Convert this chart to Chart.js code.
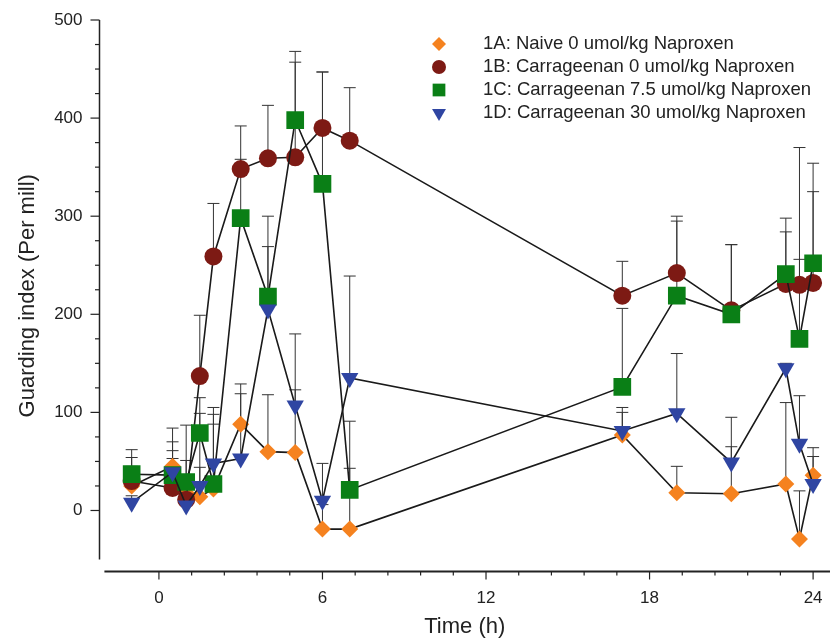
<!DOCTYPE html>
<html>
<head>
<meta charset="utf-8">
<script src="https://cdn.jsdelivr.net/npm/chart.js@4.4.0/dist/chart.umd.min.js"></script>
<style>
  html, body { margin: 0; padding: 0; background: #fff; }
  #wrap { width: 830px; height: 640px; }
</style>
</head>
<body>
<div id="wrap"><canvas id="guardChart" width="830" height="640"></canvas></div>
<script>
// sampling times (h)
const times = [-1, 0.5, 1, 1.5, 2, 3, 4, 5, 6, 7, 17, 19, 21, 23, 23.5, 24];

// group means (per mill) and top of the error bar
const naive = [25, 45, 18, 14, 22, 88, 60, 59, -19, -19, 77, 18, 17, 27, -29, 36];
const naiveUpper = [45, 70, 30, 44, 88, 129, 118, 123, 6, 43, 100, 45, 65, 110, 20, 64];

const carra0 = [30, 23, 11, 137, 259, 348, 359, 360, 390, 377, 219, 242, 204, 231, 230, 232];
const carra0Upper = [54, 53, 51, 199, 313, 392, 413, 457, 447, 431, 254, 300, 271, 298, 256, 325];

const carra75 = [37, 36, 29, 79, 27, 298, 218, 398, 333, 21, 126, 219, 200, 241, 175, 252];
const carra75Upper = [62, 61, 87, 115, 98, 358, 300, 468, 447, 91, 206, 295, 271, 284, 370, 354];

const carra30 = [8, 39, 5, 25, 48, 53, 205, 107, 10, 135, 81, 99, 49, 145, 68, 27];
const carra30Upper = [15, 84, 12, 99, 105, 119, 269, 180, 48, 239, 105, 160, 95, 150, 117, 55];

const seriesNames = [
  '1A: Naive 0 umol/kg Naproxen',
  '1B: Carrageenan 0 umol/kg Naproxen',
  '1C: Carrageenan 7.5 umol/kg Naproxen',
  '1D: Carrageenan 30 umol/kg Naproxen'
];

const xTicks = [0, 6, 12, 18, 24];
const yTicks = [0, 100, 200, 300, 400, 500];

const FONT = "'Liberation Sans', Arial, Helvetica, sans-serif";
const INK = '#222';

const colors = ['#f5821f', '#7d1a14', '#0a7f16', '#2f45a2'];
const styles = [
  { pointStyle: 'rectRot', radius: 8.5, rotation: 0, legendRadius: 7 },
  { pointStyle: 'circle', radius: 9, rotation: 0, legendRadius: 7 },
  { pointStyle: 'rect', radius: 12.5, rotation: 0, legendRadius: 9 },
  { pointStyle: 'triangle', radius: 10, rotation: 180, legendRadius: 8 }
];

const means = [naive, carra0, carra75, carra30];
const uppers = [naiveUpper, carra0Upper, carra75Upper, carra30Upper];

function toPoints(vals) {
  return times.map((t, i) => ({ x: t, y: vals[i] }));
}

const datasets = means.map((vals, i) => ({
  label: seriesNames[i],
  data: toPoints(vals),
  borderColor: '#1a1a1a',
  borderWidth: 1.6,
  pointStyle: styles[i].pointStyle,
  pointRadius: styles[i].radius,
  pointRotation: styles[i].rotation,
  pointBackgroundColor: colors[i],
  pointBorderColor: colors[i],
  pointBorderWidth: 0,
  pointHoverRadius: styles[i].radius,
  order: 4 - i,
  tension: 0
}));

// let the time axis run to the right edge of the canvas
const stretchX = {
  id: 'stretchX',
  afterLayout(chart) {
    const xs = chart.scales.x;
    xs.right = chart.width;
    xs.width = xs.right - xs.left;
    xs.configure();
    chart.chartArea.right = chart.width;
    chart.chartArea.width = chart.chartArea.right - chart.chartArea.left;
  }
};

// upper error bars, under the lines and markers
const errorBars = {
  id: 'errorBars',
  beforeDatasetsDraw(chart) {
    const ctx = chart.ctx;
    const yScale = chart.scales.y;
    ctx.save();
    ctx.strokeStyle = '#333';
    ctx.lineWidth = 1;
    uppers.forEach((up, i) => {
      const meta = chart.getDatasetMeta(i);
      meta.data.forEach((pt, j) => {
        const top = yScale.getPixelForValue(up[j]);
        ctx.beginPath();
        ctx.moveTo(pt.x, pt.y);
        ctx.lineTo(pt.x, top);
        ctx.moveTo(pt.x - 6, top);
        ctx.lineTo(pt.x + 6, top);
        ctx.stroke();
      });
    });
    ctx.restore();
  }
};

// detached axis lines with major and minor tick marks
const axisLines = {
  id: 'axisLines',
  afterDraw(chart) {
    const ctx = chart.ctx;
    const xs = chart.scales.x, ys = chart.scales.y;
    const area = chart.chartArea;
    ctx.save();
    ctx.strokeStyle = INK;

    // y axis
    const yx = area.left;
    ctx.lineWidth = 1.5;
    ctx.beginPath();
    ctx.moveTo(yx, ys.getPixelForValue(500));
    ctx.lineTo(yx, ys.getPixelForValue(-50));
    ctx.stroke();
    ctx.lineWidth = 1.2;
    for (let v = 0; v <= 500; v += 25) {
      const py = ys.getPixelForValue(v);
      const len = v % 100 === 0 ? 9 : 4.5;
      ctx.beginPath();
      ctx.moveTo(yx - len, py);
      ctx.lineTo(yx, py);
      ctx.stroke();
    }

    // x axis
    const xy = area.bottom;
    ctx.lineWidth = 2;
    ctx.beginPath();
    ctx.moveTo(xs.getPixelForValue(-2), xy);
    ctx.lineTo(chart.width, xy);
    ctx.stroke();
    ctx.lineWidth = 1.2;
    for (let k = 0; k <= 20; k++) {
      const v = k * 1.2;
      const px = xs.getPixelForValue(v);
      const len = k % 5 === 0 ? 8 : 4;
      ctx.beginPath();
      ctx.moveTo(px, xy);
      ctx.lineTo(px, xy + len);
      ctx.stroke();
    }
    ctx.restore();
  }
};

// legend box in the upper right
const markerLegend = {
  id: 'markerLegend',
  afterDraw(chart) {
    const ctx = chart.ctx;
    ctx.save();
    ctx.font = '18.5px ' + FONT;
    ctx.textBaseline = 'middle';
    ctx.textAlign = 'left';
    seriesNames.forEach((name, i) => {
      const y = 44 + i * 23;
      ctx.fillStyle = colors[i];
      Chart.helpers.drawPoint(ctx, {
        pointStyle: styles[i].pointStyle,
        radius: styles[i].legendRadius,
        rotation: styles[i].rotation,
        borderWidth: 0
      }, 439, y);
      ctx.fillStyle = INK;
      ctx.fillText(name, 483, y);
    });
    ctx.restore();
  }
};

new Chart(document.getElementById('guardChart'), {
  type: 'line',
  data: { datasets },
  options: {
    responsive: false,
    animation: false,
    layout: { padding: { top: 20, right: 0, bottom: 0, left: 0 } },
    plugins: {
      legend: { display: false },
      tooltip: { enabled: false }
    },
    scales: {
      x: {
        type: 'linear',
        min: -2.18,
        max: 24.62,
        grid: { display: false, drawTicks: false },
        border: { display: false },
        afterBuildTicks: (s) => { s.ticks = xTicks.map(v => ({ value: v })); },
        afterFit: (s) => { s.height = 68.5; s.paddingLeft = 0; s.paddingRight = 0; },
        ticks: {
          autoSkip: false,
          maxRotation: 0,
          padding: 17,
          color: INK,
          font: { family: FONT, size: 17 }
        },
        title: {
          display: true,
          text: 'Time (h)',
          color: INK,
          font: { family: FONT, size: 22 },
          padding: { top: 0, bottom: 0 }
        }
      },
      y: {
        type: 'linear',
        min: -62.2,
        max: 500,
        grid: { display: false, drawTicks: false },
        border: { display: false },
        afterBuildTicks: (s) => { s.ticks = yTicks.map(v => ({ value: v })); },
        afterFit: (s) => { s.width = 99.5; s.paddingTop = 0; s.paddingBottom = 0; },
        ticks: {
          autoSkip: false,
          padding: 17,
          color: INK,
          font: { family: FONT, size: 17 }
        },
        title: {
          display: true,
          text: 'Guarding index (Per mill)',
          color: INK,
          font: { family: FONT, size: 22 },
          padding: { top: 15, bottom: 0 }
        }
      }
    }
  },
  plugins: [stretchX, errorBars, axisLines, markerLegend]
});
</script>
</body>
</html>
